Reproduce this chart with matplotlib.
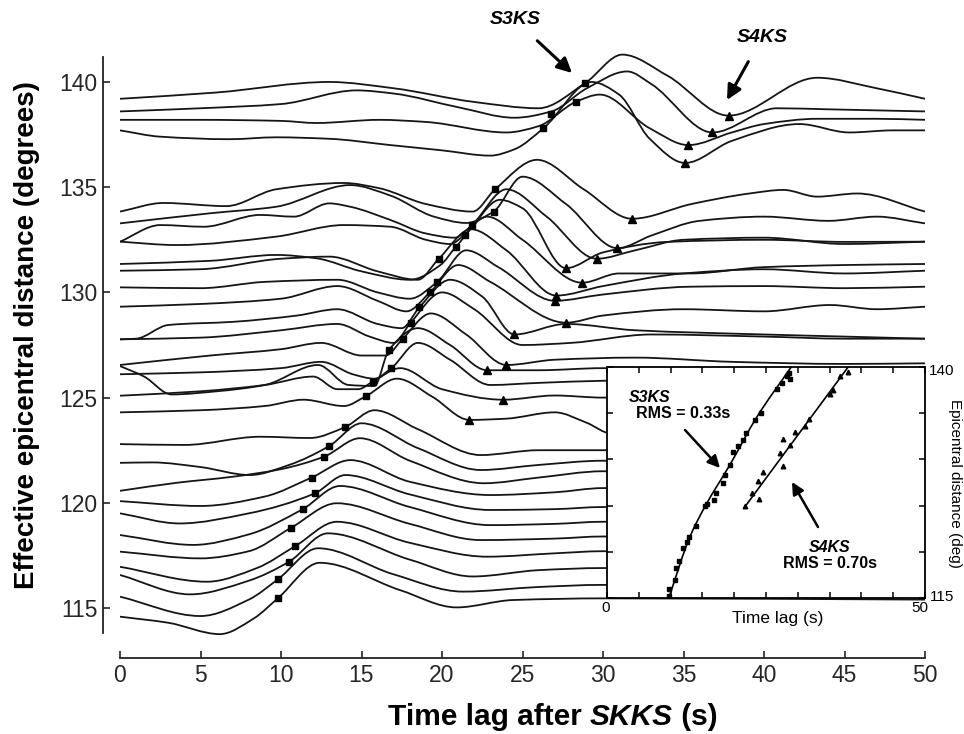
import numpy as np
import matplotlib
matplotlib.use("Agg")
import matplotlib.pyplot as plt
from matplotlib.path import Path
from matplotlib.patches import PathPatch

plt.rcParams["font.family"] = ["Liberation Sans", "DejaVu Sans"]

# ---- traces as (time lag s, distance deg) knots ----
top_traces = [
    [(0, 139.2), (6, 139.5), (13, 140.0), (17, 139.7), (22, 139.05), (26, 138.75), (28.9, 139.95),
     (31.2, 141.3), (34, 140.3), (37.8, 138.4), (43.3, 140.2), (47, 139.7), (50, 139.2)],
    [(0, 138.6), (5, 138.75), (10, 138.95), (14.7, 139.6), (17, 139.45), (21, 138.8), (24.5, 138.3),
     (26.8, 138.6), (29, 139.7), (31.5, 140.5), (33, 139.9), (36.8, 137.6), (40.8, 138.75),
     (44, 138.7), (47, 138.65), (50, 138.6)],
    [(0, 138.2), (5, 138.2), (10, 138.15), (12.2, 138.05), (16.1, 138.2), (19, 138.1), (24, 137.6),
     (26, 137.9), (28.3, 139.05), (29.8, 139.4), (32.9, 137.8), (35.3, 137.0), (38, 137.6),
     (40, 138.0), (43.3, 138.25), (47, 138.25), (50, 138.2)],
    [(0, 137.7), (2.5, 137.4), (6.8, 137.28), (9.7, 137.37), (13, 137.3), (16.8, 137.0), (20, 136.75),
     (23, 136.5), (24.5, 136.8), (26.3, 137.8), (29.3, 140.0), (31, 139.4), (32.9, 137.3),
     (35.1, 136.15), (38, 137.2), (42.2, 138.0), (45.3, 137.6), (48, 137.7), (50, 137.7)],
]

middle_traces = [
    [(0, 133.84), (2.7, 134.25), (6.6, 134.1), (9.7, 134.9), (13.9, 135.2), (16.1, 134.95), (19, 134.2),
     (21.9, 133.84), (23.3, 134.9), (25.9, 136.3), (28.8, 134.9), (31.8, 133.5), (35.5, 134.2),
     (39.1, 134.7), (41.2, 134.87), (43.3, 134.55), (45.8, 134.7), (50, 133.84)],
    [(0, 133.28), (5.6, 133.76), (9.7, 134.07), (14.3, 135.1), (16.8, 134.6), (19.5, 133.6), (21.5, 133.3),
     (23.2, 133.84), (25.0, 135.5), (27.7, 134.2), (30.9, 132.1), (33, 132.7), (36, 133.4), (40, 133.6),
     (44, 133.4), (47, 133.6), (50, 133.28)],
    [(0, 132.41), (2.5, 133.2), (5.2, 133.12), (8.7, 133.68), (10.8, 133.6), (13, 134.23), (14.3, 134.07),
     (16.8, 133.44), (19, 132.8), (20.8, 132.6), (21.85, 133.2), (24, 134.9), (26.5, 133.6),
     (29.6, 131.6), (32, 132.0), (35, 132.5), (40, 132.6), (45, 132.3), (50, 132.41)],
    [(0, 132.41), (3.5, 132.25), (9.7, 132.65), (13.9, 133.2), (16.8, 133.12), (19, 132.5), (20.5, 132.3),
     (21.4, 132.73), (23.6, 134.4), (25, 134.0), (27.7, 131.15), (30, 131.9), (34, 132.4), (40, 132.5),
     (45, 132.4), (50, 132.41)],
    [(0, 131.35), (5.6, 131.5), (9.7, 131.78), (12.2, 131.62), (15, 131.0), (18, 130.6), (19.9, 131.3),
     (20.87, 132.17), (22.8, 133.6), (25, 132.5), (28.7, 130.46), (31, 130.9), (35.4, 130.9),
     (40, 131.2), (45, 131.3), (50, 131.35)],
    [(0, 131.03), (5, 131.1), (10, 131.6), (13, 131.7), (16, 131.0), (18.5, 130.6), (19.8, 131.6),
     (21.8, 133.0), (24, 132.0), (27.1, 129.85), (30, 130.3), (35, 130.9), (40, 131.1), (45, 130.9),
     (50, 131.03)],
    [(0, 130.24), (5, 130.2), (9, 130.5), (13.5, 130.6), (16, 130.0), (18, 129.7), (19.7, 130.5),
     (21.5, 132.0), (23.5, 131.2), (27.0, 129.6), (30, 129.9), (35.4, 130.27), (40, 130.3), (45, 130.2),
     (50, 130.27)],
    [(0, 129.32), (5, 129.45), (10, 129.7), (13.5, 130.3), (16, 129.6), (17.8, 129.1), (19.25, 130.0),
     (21, 131.3), (23, 130.5), (27.7, 128.56), (30, 128.9), (35, 129.2), (40, 129.1), (44.1, 129.4),
     (47, 129.2), (50, 129.32)],
    [(0, 127.77), (1, 127.8), (3, 128.45), (7, 128.6), (11, 128.9), (13.5, 129.2), (16, 128.5),
     (17.5, 128.3), (18.6, 129.3), (20.5, 130.6), (22.5, 129.8), (24.5, 128.0), (27.7, 128.5),
     (32, 128.2), (40, 128.0), (45, 127.9), (50, 127.8)],
    [(0, 127.77), (5, 127.85), (10, 128.2), (13.5, 128.5), (15.5, 127.9), (17, 127.6), (18.05, 128.56),
     (20, 130.0), (22, 129.2), (25, 127.5), (28, 127.6), (33, 128.0), (40, 127.9), (45, 127.8),
     (50, 127.8)],
    [(0, 126.55), (5.6, 127.0), (10, 127.3), (12.5, 127.6), (15, 127.0), (16.5, 127.0), (17.56, 127.8),
     (19.3, 129.0), (21.5, 128.0), (24.0, 126.55), (27, 126.8), (32, 126.9), (38, 126.7), (45, 126.6),
     (50, 126.63)],
    [(0, 126.5), (1.5, 126.0), (3.2, 125.15), (6, 125.3), (9, 125.6), (12.3, 126.55), (14.2, 125.6),
     (15.8, 125.55), (16.7, 127.26), (18.5, 128.3), (20.5, 127.5), (22.8, 126.3), (26, 126.3),
     (30, 126.4), (40, 126.3), (50, 126.3)],
    [(0, 126.11), (5, 126.2), (10, 126.4), (12.5, 126.7), (14.5, 126.1), (15.8, 125.9), (16.85, 126.4),
     (18.5, 127.6), (20.5, 126.8), (23, 125.6), (26, 125.7), (30, 125.8), (40, 125.9), (50, 126.0)],
    [(0, 125.09), (5, 125.3), (9, 125.6), (12, 126.0), (13.5, 125.4), (14.8, 125.4), (15.7, 125.76),
     (17.4, 126.4), (20, 125.4), (23.8, 124.9), (27, 125.1), (30, 125.0), (40, 125.0), (50, 125.0)],
    [(0, 124.3), (5, 124.4), (9, 124.6), (11.4, 124.9), (13.9, 124.6), (15.3, 125.08), (17.2, 125.9),
     (19.4, 125.04), (21.7, 123.94), (24, 124.0), (27, 124.3), (29, 123.8), (30.5, 123.3), (33, 123.6),
     (40, 124.0), (50, 124.2)],
]

lower_traces = [
    [(0, 122.79), (4, 122.75), (8.7, 123.14), (11.8, 123.08), (13.98, 123.6), (15.8, 124.4), (18.5, 123.5),
     (22.4, 122.27), (26, 122.5), (30, 122.5), (40, 122.6), (50, 122.6)],
    [(0, 121.9), (2, 121.92), (5, 121.7), (8.07, 121.32), (10.5, 121.8), (13.0, 122.7), (15.0, 123.78),
     (18.5, 122.6), (22.4, 121.56), (26, 121.8), (30, 122.0), (40, 122.0), (50, 122.0)],
    [(0, 120.57), (3.5, 120.95), (7, 121.24), (10, 121.6), (12.7, 122.2), (14.9, 123.07), (18, 122.0),
     (22.6, 120.93), (26, 121.2), (30, 121.5), (40, 121.3), (50, 121.3)],
    [(0, 120.08), (5, 119.85), (9, 120.3), (11.9, 121.2), (14.3, 122.03), (18, 121.0), (23, 120.37),
     (27, 120.5), (30, 120.7), (40, 120.6), (50, 120.6)],
    [(0, 119.5), (3.7, 119.02), (8, 119.5), (12.1, 120.45), (14.0, 121.32), (18, 120.4), (23, 119.66),
     (27, 119.7), (30, 119.8), (50, 119.8)],
    [(0, 118.47), (4.55, 118.0), (8, 118.5), (11.35, 119.7), (13.66, 120.8), (18, 119.8), (23, 118.94),
     (27, 119.0), (30, 119.1), (50, 119.1)],
    [(0, 117.68), (5, 117.36), (8, 117.7), (10.6, 118.8), (13.46, 119.98), (18, 119.0), (22.4, 118.23),
     (27, 118.3), (30, 118.4), (50, 118.4)],
    [(0, 116.96), (5.4, 116.25), (8.5, 116.9), (10.9, 117.95), (13.46, 119.1), (18, 118.1), (22.8, 117.44),
     (27, 117.6), (30, 117.7), (50, 117.7)],
    [(0, 116.57), (4.35, 115.65), (8, 116.3), (10.5, 117.2), (12.9, 118.55), (18, 117.3), (21.9, 116.5),
     (26, 116.8), (30, 116.9), (50, 116.9)],
    [(0, 115.54), (5.0, 114.62), (8, 115.4), (9.8, 116.36), (12.3, 117.84), (17, 116.6), (21.3, 115.78),
     (26, 116.0), (30, 116.1), (50, 116.1)],
    [(0, 114.59), (3, 114.3), (6.2, 113.76), (8.3, 114.5), (9.8, 115.46), (12.4, 117.15), (17.4, 115.85),
     (20.9, 115.03), (24.4, 115.38), (30.2, 115.46), (50, 115.4)],
]

# picks on the record section
s3ks_pick_t = [26.3, 26.8, 28.3, 28.9, 23.3, 23.2, 21.85, 21.4, 20.87, 19.8, 19.7, 19.25, 18.6, 18.05,
               17.56, 16.7, 16.85, 15.7, 15.3, 13.98, 13.0, 12.7, 11.9, 12.1, 11.35, 10.6, 10.9, 10.5,
               9.8, 9.8]
s3ks_pick_d = [137.8, 138.5, 139.05, 139.95, 134.9, 133.84, 133.2, 132.73, 132.17, 131.6, 130.5, 130.0,
               129.3, 128.56, 127.8, 127.26, 126.4, 125.76, 125.08, 123.6, 122.7, 122.2, 121.2, 120.45,
               119.7, 118.8, 117.95, 117.2, 116.36, 115.46]
s4ks_pick_t = [37.8, 36.8, 35.3, 35.1, 31.8, 30.9, 29.6, 27.7, 28.7, 27.1, 27.0, 27.7, 24.5, 24.0, 22.8,
               23.8, 21.7]
s4ks_pick_d = [138.4, 137.6, 137.0, 136.15, 133.5, 132.1, 131.6, 131.15, 130.46, 129.85, 129.6, 128.56,
               128.0, 126.55, 126.3, 124.9, 123.94]

# inset: travel times against epicentral distance
in_s3ks_t = [9.7, 9.75, 10.69, 10.85, 11.37, 12.0, 12.63, 12.94, 14.0, 15.4, 15.67, 16.87, 17.09, 18.19,
             18.55, 19.34, 19.86, 20.65, 21.43, 21.86, 23.27, 24.16, 26.68, 27.47, 28.26, 28.67, 28.77]
in_s3ks_d = [115.2, 115.97, 116.98, 118.25, 119.07, 120.41, 121.13, 121.67, 122.82, 124.91, 125.2, 125.64,
             126.36, 127.44, 128.34, 129.43, 130.76, 131.41, 132.06, 132.86, 134.3, 135.02, 137.54, 138.27,
             138.98, 139.35, 138.7]
in_s4ks_t = [21.7, 22.85, 23.9, 23.8, 24.48, 27.2, 27.62, 27.72, 28.77, 29.56, 31.13, 31.8, 35.06, 35.48,
             36.64, 37.95]
in_s4ks_d = [124.91, 126.36, 125.7, 127.62, 128.6, 130.69, 132.2, 129.3, 131.6, 132.93, 133.57, 134.37,
             137.1, 137.47, 138.98, 139.41]
fit_s3ks_t = [9.7, 13.05, 15.4, 19.34, 23.5, 29.0]
fit_s3ks_d = [115.0, 121.67, 124.9, 129.43, 134.5, 140.0]
fit_s4ks_t = [21.6, 37.95]
fit_s4ks_d = [124.8, 140.0]

x_ticks = [0, 5, 10, 15, 20, 25, 30, 35, 40, 45, 50]
y_ticks = [115, 120, 125, 130, 135, 140]


def smooth_path(pts):
    # cubic Hermite (monotone slopes) pieces written as Bezier segments
    x = np.array([p[0] for p in pts], float)
    y = np.array([p[1] for p in pts], float)
    h = np.diff(x)
    d = np.diff(y) / h
    m = np.zeros_like(y)
    m[0], m[-1] = d[0], d[-1]
    for k in range(1, len(x) - 1):
        if d[k - 1] * d[k] > 0:
            w1 = 2 * h[k] + h[k - 1]
            w2 = h[k] + 2 * h[k - 1]
            m[k] = (w1 + w2) / (w1 / d[k - 1] + w2 / d[k])
    verts = [(x[0], y[0])]
    codes = [Path.MOVETO]
    for k in range(len(h)):
        verts += [(x[k] + h[k] / 3, y[k] + m[k] * h[k] / 3),
                  (x[k + 1] - h[k] / 3, y[k + 1] - m[k + 1] * h[k] / 3),
                  (x[k + 1], y[k + 1])]
        codes += [Path.CURVE4] * 3
    return Path(verts, codes)


def px(x, y):
    return (x / 964, 1 - y / 734)


fig = plt.figure(figsize=(9.64, 7.34), dpi=100)
ax = fig.add_axes([120 / 964, 1 - 639.6 / 734, 805 / 964, 589.2 / 734])

for tr in top_traces + middle_traces + lower_traces:
    ax.add_patch(PathPatch(smooth_path(tr), fill=False, lw=1.3, ec="#151515", zorder=2))

ax.plot(s3ks_pick_t, s3ks_pick_d, "s", ms=4.2, color="black", zorder=3)
ax.plot(s4ks_pick_t, s4ks_pick_d, "^", ms=5.5, color="black", zorder=3)

ax.set_xlim(0, 50)
ax.set_ylim(113.5, 141.5)
ax.set_xticks(x_ticks)
ax.set_yticks(y_ticks)
for s in ["top", "right"]:
    ax.spines[s].set_visible(False)
ax.spines["left"].set_position(("outward", 12.2))
ax.spines["bottom"].set_position(("outward", 13.3))
ax.spines["left"].set_bounds(113.8, 141.2)
ax.spines["bottom"].set_bounds(0, 50)
for s in ["left", "bottom"]:
    ax.spines[s].set_linewidth(1.3)
    ax.spines[s].set_color("#222222")
ax.tick_params(direction="in", length=5, width=1.2, labelsize=16.5, colors="#262626", pad=4)

# annotations on the record section
ax.annotate("S3KS", xy=px(572, 73), xycoords="figure fraction", xytext=px(515, 20),
            textcoords="figure fraction", ha="center", va="center", fontsize=14,
            fontweight="bold", fontstyle="italic",
            arrowprops=dict(arrowstyle="-|>", lw=2.2, color="black", mutation_scale=22,
                            shrinkA=10, shrinkB=0))
ax.annotate("S4KS", xy=px(727, 100), xycoords="figure fraction", xytext=px(762, 37),
            textcoords="figure fraction", ha="center", va="center", fontsize=14,
            fontweight="bold", fontstyle="italic",
            arrowprops=dict(arrowstyle="-|>", lw=2.2, color="black", mutation_scale=22,
                            shrinkA=11, shrinkB=0))

fig.text(27 / 964, 1 - 335 / 734, "Effective epicentral distance (degrees)", rotation=90,
         ha="center", va="center", fontsize=20, fontweight="bold")
t1 = fig.text(388 / 964, 1 - 725 / 734, "Time lag after ", ha="left", va="baseline",
              fontsize=21.5, fontweight="bold")
t2 = ax.annotate("SKKS", xy=(1, 0), xycoords=t1, va="bottom", ha="left", fontsize=21.5,
                 fontweight="bold", fontstyle="italic")
ax.annotate(" (s)", xy=(1, 0), xycoords=t2, va="bottom", ha="left", fontsize=21.5,
            fontweight="bold")

# inset
axi = fig.add_axes([607 / 964, 1 - 598.3 / 734, 318 / 964, 231.6 / 734])
axi.set_facecolor("white")
axi.plot(in_s3ks_t, in_s3ks_d, "s", ms=2.3, color="black")
axi.plot(in_s4ks_t, in_s4ks_d, "^", ms=3.3, color="black")
axi.add_patch(PathPatch(smooth_path(list(zip(fit_s3ks_t, fit_s3ks_d))), fill=False, lw=1.2, ec="black"))
axi.plot(fit_s4ks_t, fit_s4ks_d, color="black", lw=1.2)
axi.set_xlim(0, 50)
axi.set_ylim(115, 140)
axi.set_xticks(x_ticks)
axi.set_yticks(y_ticks)
axi.tick_params(direction="in", length=4, width=1.1, top=True, right=True,
                labelbottom=False, labelleft=False)
for s in axi.spines.values():
    s.set_linewidth(1.3)

fig.text(606 / 964, 1 - 608 / 734, "0", ha="center", va="center", fontsize=11)
fig.text(920 / 964, 1 - 608 / 734, "50", ha="center", va="center", fontsize=11)
fig.text(929 / 964, 1 - 371 / 734, "140", ha="left", va="center", fontsize=11)
fig.text(930 / 964, 1 - 597 / 734, "115", ha="left", va="center", fontsize=11)
fig.text(778 / 964, 1 - 619 / 734, "Time lag (s)", ha="center", va="center", fontsize=12.5)
fig.text(955 / 964, 1 - 483 / 734, "Epicentral distance (deg)", ha="center", va="center",
         fontsize=11, rotation=270)

fig.text(650 / 964, 1 - 398 / 734, "S3KS", ha="center", va="center", fontsize=11.5,
         fontweight="bold", fontstyle="italic")
fig.text(683 / 964, 1 - 413 / 734, "RMS = 0.33s", ha="center", va="center", fontsize=11.5,
         fontweight="bold")
fig.text(830 / 964, 1 - 547 / 734, "S4KS", ha="center", va="center", fontsize=11.5,
         fontweight="bold", fontstyle="italic")
fig.text(830 / 964, 1 - 564 / 734, "RMS = 0.70s", ha="center", va="center", fontsize=11.5,
         fontweight="bold")
axi.annotate("", xy=px(720, 468), xycoords="figure fraction", xytext=px(685, 430),
             textcoords="figure fraction",
             arrowprops=dict(arrowstyle="-|>", lw=1.8, color="black", mutation_scale=18,
                             shrinkA=0, shrinkB=0))
axi.annotate("", xy=px(792, 482), xycoords="figure fraction", xytext=px(818, 527),
             textcoords="figure fraction",
             arrowprops=dict(arrowstyle="-|>", lw=1.8, color="black", mutation_scale=18,
                             shrinkA=0, shrinkB=0))

fig.savefig("out.png", dpi=100)
